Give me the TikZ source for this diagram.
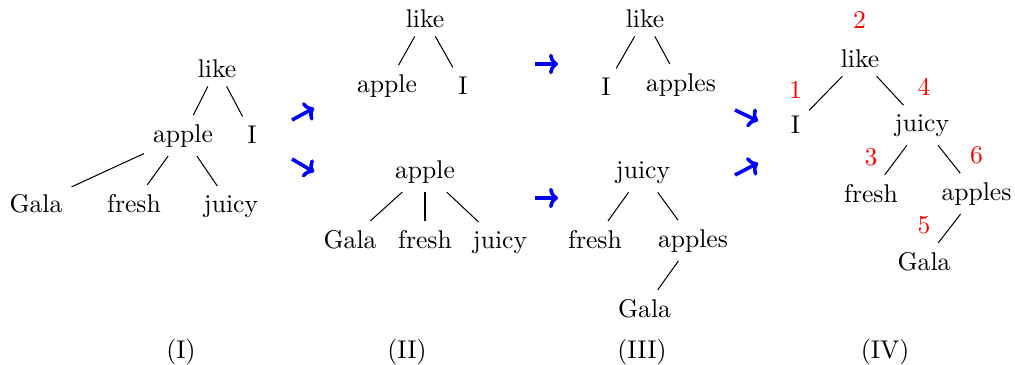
\documentclass[tikz,border=0pt]{standalone}
\usetikzlibrary{arrows.meta}
\begin{document}
\begin{tikzpicture}[x=0.39pt,y=-0.39pt,
  w/.style={anchor=base},
  num/.style={anchor=base,text=red},
  tr/.style={draw=black,line width=0.4pt},
  mv/.style={draw=blue,line width=1.4pt,-{To[length=3.5pt,width=8pt]}},
  captext/.style={anchor=base}]
\useasboundingbox (0,0) rectangle (1015,364);
% Tree I
\node[w] (a1) at (217,77) {like};
\node[w] (a2) at (183,142) {apple};
\node[w] (a3) at (252,143) {I};
\node[w] (a4) at (36,212) {Gala};
\node[w] (a5) at (134,212) {fresh};
\node[w] (a6) at (231,212) {juicy};
\draw[tr] (a1)--(a2); \draw[tr] (a1)--(a3);
\draw[tr] (a2)--(a4); \draw[tr] (a2)--(a5); \draw[tr] (a2)--(a6);
% Tree II top
\node[w] (b1) at (425,27) {like};
\node[w] (b2) at (387,92) {apple};
\node[w] (b3) at (463,94) {I};
\draw[tr] (b1)--(b2); \draw[tr] (b1)--(b3);
% Tree II bottom
\node[w] (c1) at (425,178) {apple};
\node[w] (c2) at (350,248) {Gala};
\node[w] (c3) at (425,248) {fresh};
\node[w] (c4) at (500,248) {juicy};
\draw[tr] (c1)--(c2); \draw[tr] (c1)--(c3); \draw[tr] (c1)--(c4);
% Tree III top
\node[w] (d1) at (645,27) {like};
\node[w] (d2) at (606,95) {I};
\node[w] (d3) at (681,91) {apples};
\draw[tr] (d1)--(d2); \draw[tr] (d1)--(d3);
% Tree III bottom
\node[w] (e1) at (643,178) {juicy};
\node[w] (e2) at (595,248) {fresh};
\node[w] (e3) at (693,247) {apples};
\node[w] (e4) at (644.5,317) {Gala};
\draw[tr] (e1)--(e2); \draw[tr] (e1)--(e3); \draw[tr] (e3)--(e4);
% Tree IV
\node[w] (f1) at (860,67) {like};
\node[w] (f2) at (795.5,133) {I};
\node[w] (f3) at (922,131) {juicy};
\node[w] (f4) at (871,202) {fresh};
\node[w] (f5) at (976.5,200) {apples};
\node[w] (f6) at (924,270) {Gala};
\draw[tr] (f1)--(f2); \draw[tr] (f1)--(f3);
\draw[tr] (f3)--(f4); \draw[tr] (f3)--(f5); \draw[tr] (f5)--(f6);
\node[num] (n2) at (859.5,28) {2};
\node[num] (n1) at (795.5,98) {1};
\node[num] (n4) at (924,95) {4};
\node[num] (n3) at (871,165) {3};
\node[num] (n6) at (976.5,163) {6};
\node[num] (n5) at (924,233) {5};
% arrows
\coordinate (p1s) at (292,120); \coordinate (p1e) at (314,108);
\coordinate (p2s) at (292,159); \coordinate (p2e) at (314,172);
\coordinate (p3s) at (535,64);  \coordinate (p3e) at (558,64);
\coordinate (p4s) at (535,198); \coordinate (p4e) at (558,198);
\coordinate (p5s) at (735,110); \coordinate (p5e) at (758,121);
\coordinate (p6s) at (735,175); \coordinate (p6e) at (758,163);
\draw[mv] (p1s)--(p1e);
\draw[mv] (p2s)--(p2e);
\draw[mv] (p3s)--(p3e);
\draw[mv] (p4s)--(p4e);
\draw[mv] (p5s)--(p5e);
\draw[mv] (p6s)--(p6e);
% captions
\node[captext] (t1) at (181,358) {(I)};
\node[captext] (t2) at (407,358) {(II)};
\node[captext] (t3) at (642,358) {(III)};
\node[captext] (t4) at (885,358) {(IV)};
\end{tikzpicture}
\end{document}
